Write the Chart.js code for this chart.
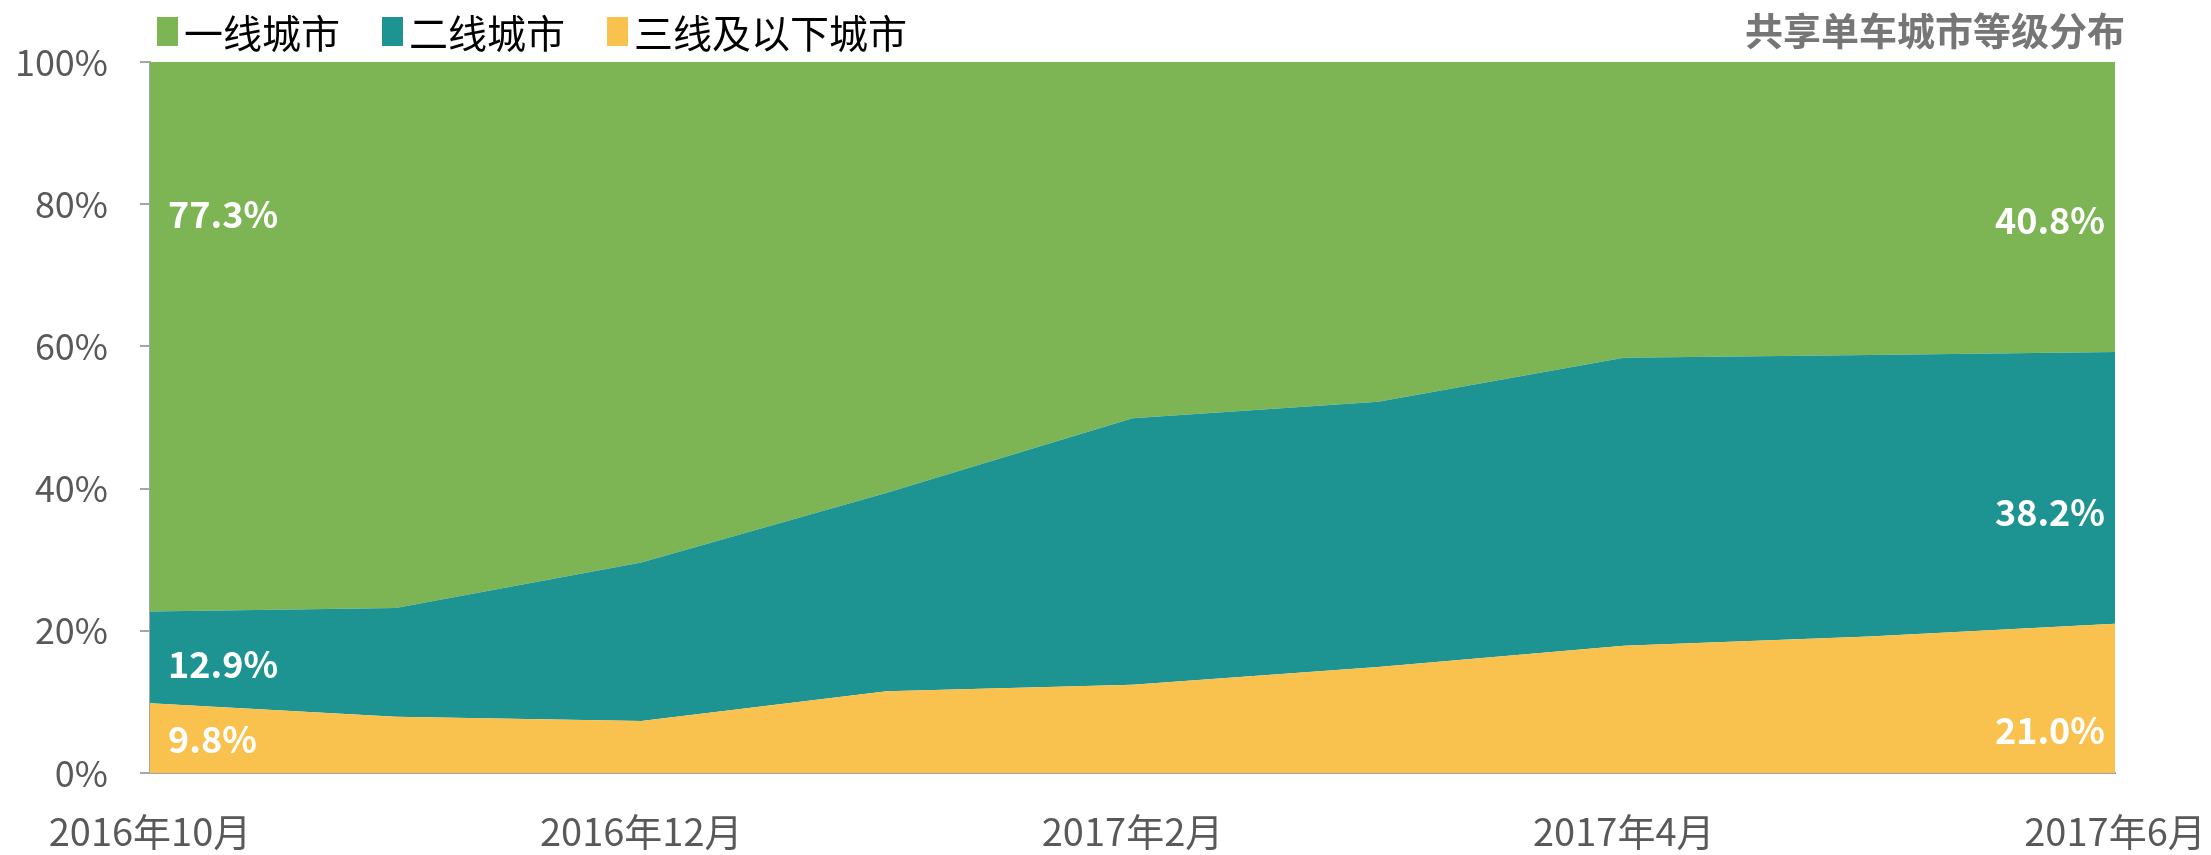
<!DOCTYPE html>
<html>
<head>
<meta charset="utf-8">
<script src="https://cdn.jsdelivr.net/npm/chart.js@4"></script>
<style>
  body { margin: 0; background: #fff; }
  #wrap { width: 2211px; height: 855px; }
</style>
</head>
<body>
<div id="wrap"><canvas id="cityChart" width="2211" height="855"></canvas></div>
<script>
const months = ["2016年10月", "2016年11月", "2016年12月", "2017年1月", "2017年2月", "2017年3月", "2017年4月", "2017年5月", "2017年6月"];
const tier1 = [77.3, 76.8, 70.4, 60.6, 50.1, 47.8, 41.6, 41.2, 40.8];
const tier2 = [12.9, 15.3, 22.3, 27.9, 37.5, 37.3, 40.5, 39.6, 38.2];
const tier3 = [9.8, 7.9, 7.3, 11.5, 12.4, 14.9, 17.9, 19.2, 21.0];
const yTicks = [0, 20, 40, 60, 80, 100];

// where the end labels sit, in % of the y axis (first point, last point)
const labelSpots = { tier3: [4.8, 6.0], tier2: [15.3, 36.6], tier1: [78.6, 77.8] };

const cjk = "'Noto Sans CJK SC', 'Noto Sans', sans-serif";

const endLabels = {
  id: "endLabels",
  afterDatasetsDraw(chart) {
    const { ctx, chartArea, scales } = chart;
    ctx.save();
    ctx.fillStyle = "#fff";
    ctx.font = "bold 36px " + cjk;
    ctx.textBaseline = "middle";
    chart.data.datasets.forEach(ds => {
      const spots = labelSpots[ds.key];
      const last = ds.data.length - 1;
      ctx.textAlign = "left";
      ctx.fillText(ds.data[0].toFixed(1) + "%", chartArea.left + 18, scales.y.getPixelForValue(spots[0]));
      ctx.textAlign = "right";
      ctx.fillText(ds.data[last].toFixed(1) + "%", chartArea.right - 10, scales.y.getPixelForValue(spots[1]));
    });
    ctx.restore();
  }
};

// legend + title on one line above the plot
const header = {
  id: "header",
  afterDraw(chart) {
    const ctx = chart.ctx;
    ctx.save();
    ctx.textBaseline = "middle";
    ctx.font = "39px " + cjk;
    let x = 157;
    chart.data.datasets.slice().reverse().forEach(ds => {
      ctx.fillStyle = ds.backgroundColor;
      ctx.fillRect(x, 17, 21, 29);
      ctx.fillStyle = "#000";
      ctx.textAlign = "left";
      ctx.fillText(ds.label, x + 27, 33);
      x += 27 + ctx.measureText(ds.label).width + 42;
    });
    ctx.fillStyle = "#767676";
    ctx.font = "bold 38px " + cjk;
    ctx.textAlign = "right";
    ctx.fillText("共享单车城市等级分布", 2125, 31);
    ctx.restore();
  }
};

new Chart(document.getElementById("cityChart").getContext("2d"), {
  type: "line",
  data: {
    labels: months,
    datasets: [
      { key: "tier3", label: "三线及以下城市", data: tier3, backgroundColor: "#F9C14E", borderColor: "#F9C14E", fill: "origin" },
      { key: "tier2", label: "二线城市", data: tier2, backgroundColor: "#1E9492", borderColor: "#1E9492", fill: "-1" },
      { key: "tier1", label: "一线城市", data: tier1, backgroundColor: "#7DB554", borderColor: "#7DB554", fill: "-1" }
    ]
  },
  options: {
    responsive: false,
    animation: false,
    layout: { padding: { left: 0, right: 96, top: 62, bottom: 0 } },
    elements: {
      line: { borderWidth: 0, tension: 0 },
      point: { radius: 0, hoverRadius: 0 }
    },
    scales: {
      x: {
        offset: false,
        grid: { display: false },
        border: { display: true, color: "#A6A6A6", width: 2 },
        ticks: {
          autoSkip: false,
          maxRotation: 0,
          padding: 28,
          color: "#595959",
          font: { size: 38, family: cjk },
          callback: (v, i) => (i % 2 === 0 ? months[i] : "")
        },
        afterFit: s => { s.height = 82; s.paddingLeft = 0; s.paddingRight = 0; }
      },
      y: {
        stacked: true,
        min: 0,
        max: 100,
        afterBuildTicks: s => { s.ticks = yTicks.map(v => ({ value: v })); },
        grid: { drawOnChartArea: false, tickLength: 10, color: "#A6A6A6", lineWidth: 2 },
        border: { display: true, color: "#A6A6A6", width: 2 },
        ticks: {
          padding: 32,
          color: "#595959",
          font: { size: 36, family: cjk },
          callback: v => v + "%"
        },
        afterFit: s => { s.width = 150; }
      }
    },
    plugins: {
      tooltip: { enabled: false },
      legend: { display: false }
    }
  },
  plugins: [endLabels, header]
});
</script>
</body>
</html>
